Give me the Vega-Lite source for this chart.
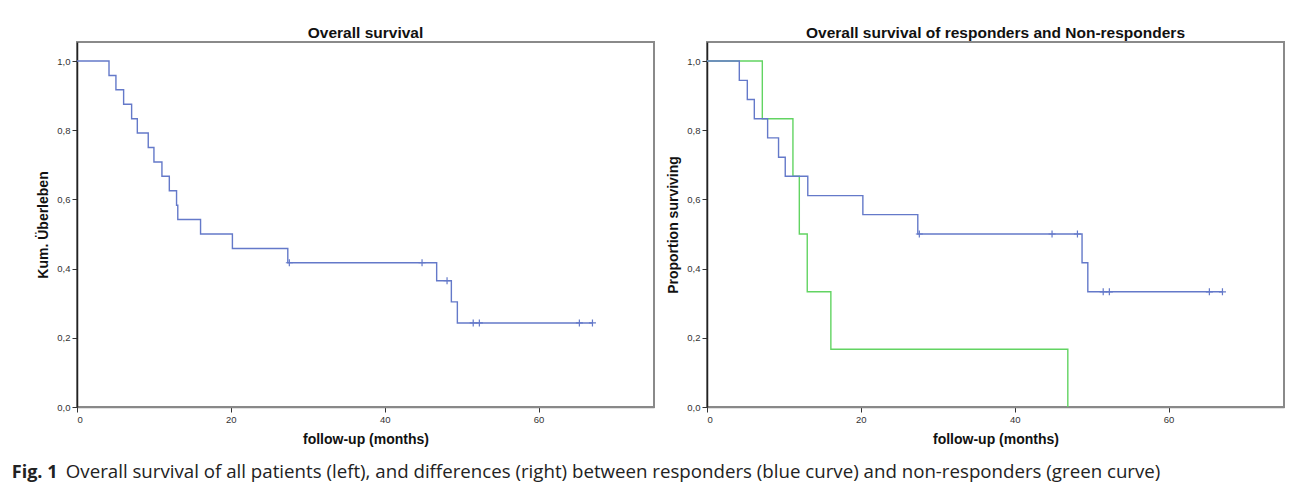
{
  "$schema": "https://vega.github.io/schema/vega-lite/v6.json",
  "padding": {"left": 11, "top": 24, "right": 0, "bottom": 0},
  "background": "white",
  "config": {
    "font": "Liberation Sans",
    "view": {"stroke": "#8a8a8a", "strokeWidth": 2},
    "axis": {"grid": false, "labelFont": "Liberation Sans", "labelFontSize": 9.5, "labelColor": "#333", "titleFont": "Liberation Sans", "titleFontSize": 14, "titleFontWeight": "bold", "titleColor": "#111", "tickColor": "#333", "tickSize": 5, "domainWidth": 1.5},
    "title": {"font": "Liberation Sans", "fontSize": 15.5, "fontWeight": "bold", "color": "#111", "offset": 1},
    "concat": {"spacing": 10}
  },
  "datasets": {
    "curves": [
      {"group": "All", "time": 0, "surv": 1.0},
      {"group": "All", "time": 4.16, "surv": 0.958},
      {"group": "All", "time": 5.06, "surv": 0.917},
      {"group": "All", "time": 6.06, "surv": 0.875},
      {"group": "All", "time": 7.1, "surv": 0.833},
      {"group": "All", "time": 7.84, "surv": 0.792},
      {"group": "All", "time": 9.26, "surv": 0.75},
      {"group": "All", "time": 10.0, "surv": 0.708},
      {"group": "All", "time": 11.04, "surv": 0.667},
      {"group": "All", "time": 12.0, "surv": 0.625},
      {"group": "All", "time": 12.94, "surv": 0.583},
      {"group": "All", "time": 13.1, "surv": 0.542},
      {"group": "All", "time": 16.06, "surv": 0.5},
      {"group": "All", "time": 20.2, "surv": 0.458},
      {"group": "All", "time": 27.4, "surv": 0.417},
      {"group": "All", "time": 46.75, "surv": 0.365},
      {"group": "All", "time": 48.66, "surv": 0.304},
      {"group": "All", "time": 49.44, "surv": 0.243},
      {"group": "All", "time": 67.0, "surv": 0.243},
      {"group": "Non-responders", "time": 0, "surv": 1.0},
      {"group": "Non-responders", "time": 7.19, "surv": 0.833},
      {"group": "Non-responders", "time": 11.17, "surv": 0.667},
      {"group": "Non-responders", "time": 12.0, "surv": 0.5},
      {"group": "Non-responders", "time": 13.03, "surv": 0.333},
      {"group": "Non-responders", "time": 16.1, "surv": 0.167},
      {"group": "Non-responders", "time": 46.9, "surv": 0.0},
      {"group": "Responders", "time": 0, "surv": 1.0},
      {"group": "Responders", "time": 4.2, "surv": 0.944},
      {"group": "Responders", "time": 5.24, "surv": 0.889},
      {"group": "Responders", "time": 6.15, "surv": 0.833},
      {"group": "Responders", "time": 7.88, "surv": 0.778},
      {"group": "Responders", "time": 9.3, "surv": 0.722},
      {"group": "Responders", "time": 10.17, "surv": 0.667},
      {"group": "Responders", "time": 13.1, "surv": 0.611},
      {"group": "Responders", "time": 20.26, "surv": 0.556},
      {"group": "Responders", "time": 27.4, "surv": 0.5},
      {"group": "Responders", "time": 48.75, "surv": 0.417},
      {"group": "Responders", "time": 49.5, "surv": 0.333},
      {"group": "Responders", "time": 67.0, "surv": 0.333}
    ],
    "censors": [
      {"group": "All", "time": 27.6, "surv": 0.417},
      {"group": "All", "time": 44.85, "surv": 0.417},
      {"group": "All", "time": 48.1, "surv": 0.365},
      {"group": "All", "time": 51.5, "surv": 0.243},
      {"group": "All", "time": 52.3, "surv": 0.243},
      {"group": "All", "time": 65.3, "surv": 0.243},
      {"group": "All", "time": 67.0, "surv": 0.243},
      {"group": "Responders", "time": 27.6, "surv": 0.5},
      {"group": "Responders", "time": 44.85, "surv": 0.5},
      {"group": "Responders", "time": 48.15, "surv": 0.5},
      {"group": "Responders", "time": 51.5, "surv": 0.333},
      {"group": "Responders", "time": 52.3, "surv": 0.333},
      {"group": "Responders", "time": 65.3, "surv": 0.333},
      {"group": "Responders", "time": 67.0, "surv": 0.333}
    ]
  },
  "title": {"text": "Overall survival of all patients (left), and differences (right) between responders (blue curve) and non-responders (green curve)", "orient": "bottom", "anchor": "start", "font": "Open Sans", "fontSize": 18.7, "fontWeight": "normal", "color": "#222", "dx": 54, "offset": -18.5},
  "vconcat": [
    {
      "title": {"text": "Fig. 1", "orient": "bottom", "anchor": "start", "font": "Open Sans", "fontSize": 18, "fontWeight": "bold", "color": "#222", "dx": -24, "offset": 16},
      "hconcat": [
        {
          "width": 577,
          "height": 365,
          "title": "Overall survival",
          "encoding": {
            "x": {"field": "time", "type": "quantitative", "scale": {"domain": [0, 75], "nice": false, "zero": false}, "axis": {"values": [0, 20, 40, 60], "title": "follow-up (months)", "domainColor": "#888", "labelPadding": 2, "titlePadding": 9}},
            "y": {"field": "surv", "type": "quantitative", "scale": {"domain": [0, 1.055], "nice": false}, "axis": {"values": [0, 0.2, 0.4, 0.6, 0.8, 1], "labelExpr": "replace(format(datum.value, '.1f'), '.', ',')", "title": "Kum. Überleben", "domainColor": "#222", "titlePadding": 6}},
            "color": {"field": "group", "type": "nominal", "scale": {"domain": ["All", "Responders", "Non-responders"], "range": ["#6479c9", "#6479c9", "#62d462"]}, "legend": null}
          },
          "layer": [
            {"data": {"name": "curves"}, "transform": [{"filter": "datum.group === 'All'"}], "mark": {"type": "line", "interpolate": "step-after", "strokeWidth": 1.4}},
            {"data": {"name": "censors"}, "transform": [{"filter": "datum.group === 'All'"}], "mark": {"type": "point", "shape": "M0,-1V1M-1,0H1", "size": 49, "filled": false, "strokeWidth": 1.2, "opacity": 1}}
          ]
        },
        {
          "width": 577,
          "height": 365,
          "title": "Overall survival of responders and Non-responders",
          "encoding": {
            "x": {"field": "time", "type": "quantitative", "scale": {"domain": [0, 75], "nice": false, "zero": false}, "axis": {"values": [0, 20, 40, 60], "title": "follow-up (months)", "domainColor": "#888", "labelPadding": 2, "titlePadding": 9}},
            "y": {"field": "surv", "type": "quantitative", "scale": {"domain": [0, 1.055], "nice": false}, "axis": {"values": [0, 0.2, 0.4, 0.6, 0.8, 1], "labelExpr": "replace(format(datum.value, '.1f'), '.', ',')", "title": "Proportion surviving", "domainColor": "#222", "titlePadding": 6}},
            "color": {"field": "group", "type": "nominal", "scale": {"domain": ["All", "Responders", "Non-responders"], "range": ["#6479c9", "#6479c9", "#62d462"]}, "legend": null}
          },
          "layer": [
            {"data": {"name": "curves"}, "transform": [{"filter": "datum.group !== 'All'"}], "mark": {"type": "line", "interpolate": "step-after", "strokeWidth": 1.4}},
            {"data": {"name": "censors"}, "transform": [{"filter": "datum.group === 'Responders'"}], "mark": {"type": "point", "shape": "M0,-1V1M-1,0H1", "size": 49, "filled": false, "strokeWidth": 1.2, "opacity": 1}}
          ]
        }
      ]
    }
  ]
}
